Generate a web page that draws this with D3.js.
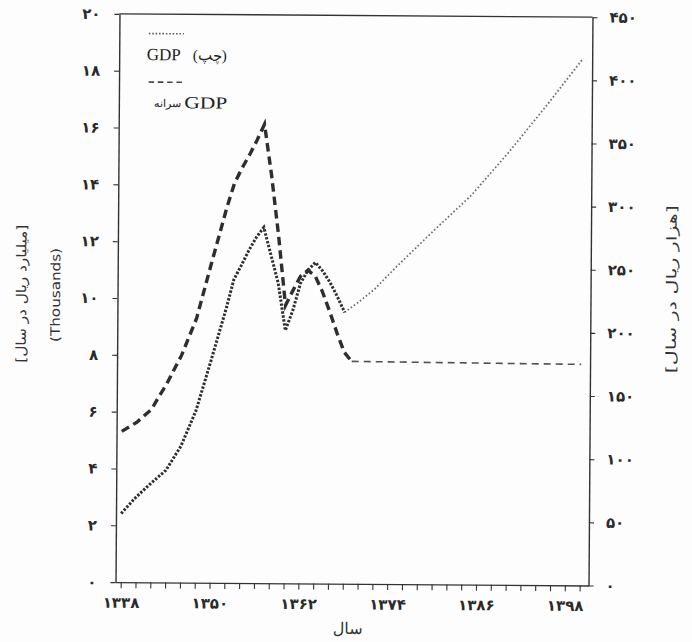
<!DOCTYPE html>
<html>
<head>
<meta charset="utf-8">
<script src="https://cdn.jsdelivr.net/npm/d3@7"></script>
<style>
  html, body { margin: 0; padding: 0; background: #fdfdfd; }
  svg { display: block; }
</style>
</head>
<body>
<svg id="chart" width="692" height="642"></svg>
<script>
// GDP (left axis, thousands of billion rials per year), observed years
const gdpYears = [1338, 1340, 1342, 1344, 1346, 1348, 1350, 1352, 1353, 1354, 1355, 1356, 1357,
                  1358, 1359, 1360, 1361, 1362, 1363, 1364, 1365, 1366, 1367, 1368];
const gdpValues = [2.42, 3.0, 3.49, 3.95, 4.8, 6.05, 7.83, 9.66, 10.68, 11.18, 11.71, 12.17, 12.52,
                   11.54, 10.56, 8.9, 9.61, 10.56, 11.02, 11.3, 11.0, 10.6, 10.1, 9.55];
// GDP projection
const gdpProjYears = [1368, 1370, 1372, 1375, 1380, 1385, 1390, 1395, 1400];
const gdpProjValues = [9.55, 9.94, 10.37, 11.18, 12.46, 13.7, 15.22, 16.85, 18.55];

// GDP per capita (right axis, thousand rials per year), observed years
const pcYears = [1338, 1340, 1342, 1343, 1344, 1346, 1348, 1350, 1352, 1353, 1354, 1355, 1356, 1357,
                 1358, 1359, 1360, 1361, 1362, 1363, 1364, 1365, 1366, 1367, 1368, 1369];
const pcValues = [119.4, 126.6, 137, 147.3, 156.9, 179.9, 209.3, 253.8, 297.4, 316.5, 328.5, 339, 350.7, 363.4,
                  323, 275.5, 220.1, 232, 243.2, 248, 243.3, 230.8, 215, 198.2, 183.1, 176.1];
// GDP per capita projection
const pcProjYears = [1369, 1400];
const pcProjValues = [176.1, 175];

// Axis ticks
const leftTicks = [0, 2, 4, 6, 8, 10, 12, 14, 16, 18, 20];
const rightTicks = [0, 50, 100, 150, 200, 250, 300, 350, 400, 450];
const yearTicks = d3.range(1338, 1401, 2);
const yearLabels = [1338, 1350, 1362, 1374, 1386, 1398];

// Legend and titles
const legendGdp = ["GDP", "(چپ)"];
const legendPc = ["سرانه", "GDP"];
const leftTitle = "[میلیارد ریال در سال]";
const leftSubTitle = "(Thousands)";
const rightTitle = "[هزار ریال در سال]";
const xTitle = "سال";

const fa = n => String(n).replace(/[0-9]/g, d => "۰۱۲۳۴۵۶۷۸۹"[d]);

const svg = d3.select("#chart");
svg.append("rect").attr("width", 692).attr("height", 642).attr("fill", "#fdfdfd");

// the printed page sits slightly askew
const g = svg.append("g").attr("transform", "rotate(0.4, 353, 300)");

const L = 117.5, R = 590.5, T = 15.5, B = 583.8;
const x = d3.scaleLinear().domain([1337.3, 1401.2]).range([L, R]);
const yL = d3.scaleLinear().domain([0, 20]).range([B, T]);
const yR = d3.scaleLinear().domain([0, 450]).range([B, T]);

const ink = "#333";

// frame
g.append("line").attr("x1", L).attr("x2", R).attr("y1", T).attr("y2", T)
  .attr("stroke", ink).attr("stroke-width", 1.4);

const tickFont = "'DejaVu Sans', sans-serif";

function styleAxis(sel, size, spacing) {
  sel.selectAll(".domain").attr("stroke", ink).attr("stroke-width", 1.4);
  sel.selectAll(".tick line").attr("stroke", ink).attr("stroke-width", 1.1);
  sel.selectAll(".tick text").attr("fill", "#2a2a2a")
    .attr("font-family", tickFont).attr("font-weight", "bold")
    .attr("font-size", size).attr("letter-spacing", spacing);
}

const axL = g.append("g").attr("transform", `translate(${L},0)`)
  .call(d3.axisLeft(yL).tickValues(leftTicks).tickSize(5).tickSizeOuter(0).tickPadding(14).tickFormat(fa));
styleAxis(axL, 15, 1);

const axR = g.append("g").attr("transform", `translate(${R},0)`)
  .call(d3.axisRight(yR).tickValues(rightTicks).tickSize(5).tickSizeOuter(0).tickPadding(12).tickFormat(fa));
styleAxis(axR, 15, 1.5);

const axB = g.append("g").attr("transform", `translate(0,${B})`)
  .call(d3.axisBottom(x).tickValues(yearTicks).tickSize(6).tickSizeOuter(0).tickPadding(9)
    .tickFormat(d => yearLabels.includes(d) ? fa(d) : ""));
styleAxis(axB, 15, 2);

// series
const lineL = d3.line().x(d => x(d[0])).y(d => yL(d[1]));
const lineR = d3.line().x(d => x(d[0])).y(d => yR(d[1]));

g.append("path").datum(d3.zip(gdpProjYears, gdpProjValues))
  .attr("d", lineL).attr("fill", "none").attr("stroke", "#6a6a6a")
  .attr("stroke-width", 1.7).attr("stroke-dasharray", "1.6,2.2");

g.append("path").datum(d3.zip(pcProjYears, pcProjValues))
  .attr("d", lineR).attr("fill", "none").attr("stroke", "#505050")
  .attr("stroke-width", 1.6).attr("stroke-dasharray", "7,5");

g.append("path").datum(d3.zip(gdpYears, gdpValues))
  .attr("d", lineL).attr("fill", "none").attr("stroke", "#2e2e2e")
  .attr("stroke-width", 3).attr("stroke-dasharray", "2.4,1.6");

g.append("path").datum(d3.zip(pcYears, pcValues))
  .attr("d", lineR).attr("fill", "none").attr("stroke", "#2e2e2e")
  .attr("stroke-width", 3.4).attr("stroke-dasharray", "8.5,5");

// legend
const serif = "'Liberation Serif', 'Times New Roman', serif";
g.append("line").attr("x1", 147).attr("x2", 182).attr("y1", 35).attr("y2", 35)
  .attr("stroke", "#555").attr("stroke-width", 1.6).attr("stroke-dasharray", "1.5,1.9");
g.append("text").attr("x", 145).attr("y", 61.5).attr("font-family", serif).attr("font-size", 17)
  .attr("fill", "#222").text(legendGdp[0]);
g.append("text").attr("x", 191).attr("y", 61.5).attr("font-family", serif).attr("font-size", 15)
  .attr("fill", "#222").text(legendGdp[1]);

g.append("line").attr("x1", 147).attr("x2", 183).attr("y1", 83.5).attr("y2", 83.5)
  .attr("stroke", "#444").attr("stroke-width", 1.6).attr("stroke-dasharray", "5.5,3.8");
g.append("text").attr("x", 180).attr("y", 108.5).attr("text-anchor", "end")
  .attr("font-family", serif).attr("font-size", 11).attr("fill", "#222").text(legendPc[0]);
g.append("text").attr("x", 183).attr("y", 109.5).attr("font-family", serif).attr("font-size", 17)
  .attr("textLength", 43).attr("lengthAdjust", "spacingAndGlyphs")
  .attr("fill", "#222").text(legendPc[1]);

// axis titles
g.append("text").attr("transform", "translate(26,296) rotate(-90)")
  .attr("text-anchor", "middle").attr("font-family", tickFont).attr("font-size", 13.5)
  .attr("textLength", 138).attr("lengthAdjust", "spacingAndGlyphs")
  .attr("fill", "#333").text(leftTitle);
g.append("text").attr("transform", "translate(60,297) rotate(-90)")
  .attr("text-anchor", "middle").attr("font-family", tickFont).attr("font-size", 13)
  .attr("textLength", 94).attr("lengthAdjust", "spacingAndGlyphs")
  .attr("fill", "#333").text(leftSubTitle);
g.append("text").attr("transform", "translate(676,287) rotate(-90)")
  .attr("text-anchor", "middle").attr("font-family", tickFont).attr("font-size", 13.5)
  .attr("textLength", 168).attr("lengthAdjust", "spacingAndGlyphs")
  .attr("fill", "#333").text(rightTitle);
g.append("text").attr("x", 350).attr("y", 634)
  .attr("text-anchor", "middle").attr("font-family", tickFont).attr("font-size", 16)
  .attr("fill", "#333").text(xTitle);
</script>
</body>
</html>
